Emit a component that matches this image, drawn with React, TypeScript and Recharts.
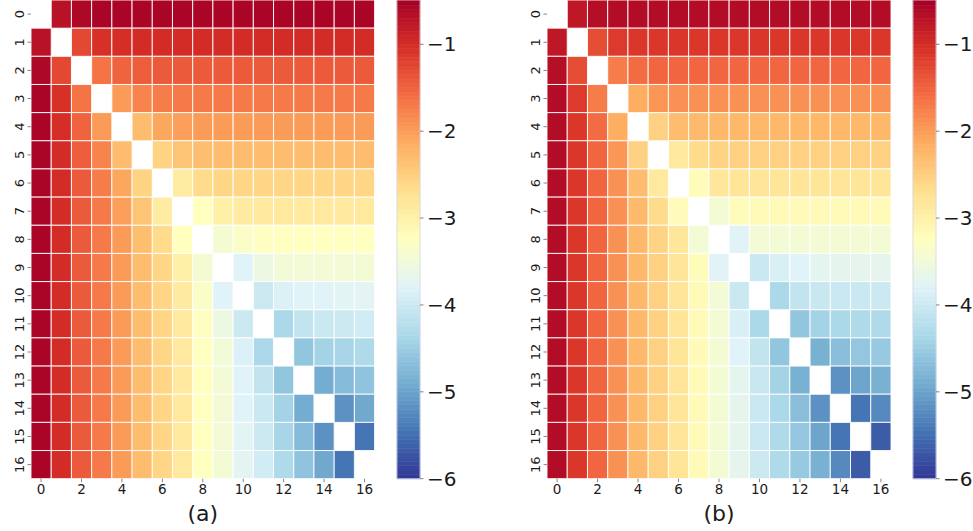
import React from "react";
import { ComposedChart, XAxis, YAxis, ReferenceArea, Label } from "recharts";

const rowLabels = [0, 1, 2, 3, 4, 5, 6, 7, 8, 9, 10, 11, 12, 13, 14, 15, 16];
const xTickLabels = [0, 2, 4, 6, 8, 10, 12, 14, 16];
const colorbarTicks = [-1, -2, -3, -4, -5, -6];
const colorMin = -6;
const colorMax = -0.49;
const panelLabels = ["(a)", "(b)"];

// RdYlBu_r colormap anchors
const cmapStops = [
  "#313695", "#4575b4", "#74add1", "#abd9e9", "#e0f3f8", "#ffffbf",
  "#fee090", "#fdae61", "#f46d43", "#d73027", "#a50026",
];

type Row = (number | null)[];

const valuesA: Row[] = [
  [null, -0.70, -0.58, -0.55, -0.55, -0.55, -0.55, -0.55, -0.55, -0.55, -0.55, -0.55, -0.55, -0.55, -0.55, -0.55, -0.55],
  [-0.70, null, -1.26, -1.05, -1.02, -1.00, -1.00, -1.00, -1.00, -1.00, -1.00, -1.00, -1.00, -1.00, -1.00, -1.00, -1.00],
  [-0.58, -1.26, null, -1.65, -1.50, -1.45, -1.43, -1.43, -1.43, -1.43, -1.43, -1.43, -1.43, -1.43, -1.43, -1.43, -1.43],
  [-0.55, -1.05, -1.65, null, -1.98, -1.78, -1.72, -1.70, -1.70, -1.70, -1.70, -1.70, -1.70, -1.70, -1.70, -1.70, -1.70],
  [-0.55, -1.02, -1.50, -1.98, null, -2.30, -2.08, -2.02, -1.98, -1.98, -1.98, -1.98, -1.98, -1.98, -1.98, -1.98, -1.98],
  [-0.55, -1.00, -1.45, -1.78, -2.30, null, -2.55, -2.38, -2.32, -2.30, -2.30, -2.30, -2.30, -2.30, -2.30, -2.30, -2.30],
  [-0.55, -1.00, -1.43, -1.72, -2.08, -2.55, null, -2.90, -2.65, -2.58, -2.58, -2.58, -2.58, -2.58, -2.58, -2.58, -2.58],
  [-0.55, -1.00, -1.43, -1.70, -2.02, -2.38, -2.90, null, -3.25, -2.97, -2.88, -2.86, -2.86, -2.86, -2.86, -2.86, -2.86],
  [-0.55, -1.00, -1.43, -1.70, -1.98, -2.32, -2.65, -3.25, null, -3.42, -3.33, -3.27, -3.25, -3.25, -3.25, -3.25, -3.25],
  [-0.55, -1.00, -1.43, -1.70, -1.98, -2.30, -2.58, -2.97, -3.42, null, -3.80, -3.58, -3.48, -3.47, -3.46, -3.46, -3.45],
  [-0.55, -1.00, -1.43, -1.70, -1.98, -2.30, -2.58, -2.88, -3.33, -3.80, null, -4.00, -3.85, -3.80, -3.80, -3.76, -3.75],
  [-0.55, -1.00, -1.43, -1.70, -1.98, -2.30, -2.58, -2.86, -3.27, -3.58, -4.00, null, -4.35, -4.12, -4.02, -4.00, -3.95],
  [-0.55, -1.00, -1.43, -1.70, -1.98, -2.30, -2.58, -2.86, -3.25, -3.48, -3.85, -4.35, null, -4.60, -4.42, -4.38, -4.32],
  [-0.55, -1.00, -1.43, -1.70, -1.98, -2.30, -2.58, -2.86, -3.25, -3.47, -3.80, -4.12, -4.60, null, -4.90, -4.72, -4.62],
  [-0.55, -1.00, -1.43, -1.70, -1.98, -2.30, -2.58, -2.86, -3.25, -3.46, -3.80, -4.02, -4.42, -4.90, null, -5.17, -4.95],
  [-0.55, -1.00, -1.43, -1.70, -1.98, -2.30, -2.58, -2.86, -3.25, -3.46, -3.76, -4.00, -4.38, -4.72, -5.17, null, -5.45],
  [-0.55, -1.00, -1.43, -1.70, -1.98, -2.30, -2.58, -2.86, -3.25, -3.45, -3.75, -3.95, -4.32, -4.62, -4.95, -5.45, null],
];

const valuesB: Row[] = [
  [null, -0.77, -0.66, -0.63, -0.63, -0.63, -0.63, -0.63, -0.63, -0.63, -0.63, -0.63, -0.63, -0.63, -0.63, -0.63, -0.63],
  [-0.77, null, -1.30, -1.13, -1.10, -1.10, -1.10, -1.10, -1.10, -1.10, -1.10, -1.10, -1.10, -1.10, -1.10, -1.10, -1.10],
  [-0.66, -1.30, null, -1.72, -1.57, -1.53, -1.53, -1.53, -1.53, -1.53, -1.53, -1.53, -1.53, -1.53, -1.53, -1.53, -1.53],
  [-0.63, -1.13, -1.72, null, -2.14, -1.95, -1.90, -1.90, -1.90, -1.90, -1.90, -1.90, -1.90, -1.90, -1.90, -1.90, -1.90],
  [-0.63, -1.10, -1.57, -2.14, null, -2.53, -2.30, -2.27, -2.25, -2.25, -2.25, -2.25, -2.25, -2.25, -2.25, -2.25, -2.25],
  [-0.63, -1.10, -1.53, -1.95, -2.53, null, -2.86, -2.65, -2.55, -2.53, -2.53, -2.53, -2.53, -2.53, -2.53, -2.53, -2.53],
  [-0.63, -1.10, -1.53, -1.90, -2.30, -2.86, null, -3.20, -2.82, -2.78, -2.78, -2.78, -2.78, -2.78, -2.78, -2.78, -2.78],
  [-0.63, -1.10, -1.53, -1.90, -2.27, -2.65, -3.20, null, -3.45, -3.17, -3.15, -3.15, -3.15, -3.15, -3.15, -3.15, -3.15],
  [-0.63, -1.10, -1.53, -1.90, -2.25, -2.55, -2.82, -3.45, null, -3.78, -3.47, -3.45, -3.45, -3.45, -3.45, -3.45, -3.45],
  [-0.63, -1.10, -1.53, -1.90, -2.25, -2.53, -2.78, -3.17, -3.78, null, -4.02, -3.88, -3.80, -3.72, -3.70, -3.70, -3.70],
  [-0.63, -1.10, -1.53, -1.90, -2.25, -2.53, -2.78, -3.15, -3.47, -4.02, null, -4.35, -4.12, -4.05, -4.02, -4.02, -4.00],
  [-0.63, -1.10, -1.53, -1.90, -2.25, -2.53, -2.78, -3.15, -3.45, -3.88, -4.35, null, -4.60, -4.42, -4.35, -4.32, -4.32],
  [-0.63, -1.10, -1.53, -1.90, -2.25, -2.53, -2.78, -3.15, -3.45, -3.80, -4.12, -4.60, null, -4.85, -4.68, -4.58, -4.55],
  [-0.63, -1.10, -1.53, -1.90, -2.25, -2.53, -2.78, -3.15, -3.45, -3.72, -4.05, -4.42, -4.85, null, -5.17, -4.98, -4.85],
  [-0.63, -1.10, -1.53, -1.90, -2.25, -2.53, -2.78, -3.15, -3.45, -3.70, -4.02, -4.35, -4.68, -5.17, null, -5.45, -5.25],
  [-0.63, -1.10, -1.53, -1.90, -2.25, -2.53, -2.78, -3.15, -3.45, -3.70, -4.02, -4.32, -4.58, -4.98, -5.45, null, -5.67],
  [-0.63, -1.10, -1.53, -1.90, -2.25, -2.53, -2.78, -3.15, -3.45, -3.70, -4.00, -4.32, -4.55, -4.85, -5.25, -5.67, null],
];

const FONT = "DejaVu Sans, Liberation Sans, sans-serif";
const TEXT = "#1a1a1a";
const TICK = "#666666";
const PLOT_BOTTOM = 52.3;

function hexToRgb(h: string) {
  return [parseInt(h.slice(1, 3), 16), parseInt(h.slice(3, 5), 16), parseInt(h.slice(5, 7), 16)];
}

function colorFor(v: number) {
  let t = (v - colorMin) / (colorMax - colorMin);
  t = Math.max(0, Math.min(1, t));
  const pos = t * (cmapStops.length - 1);
  const i = Math.min(Math.floor(pos), cmapStops.length - 2);
  const f = pos - i;
  const a = hexToRgb(cmapStops[i]);
  const b = hexToRgb(cmapStops[i + 1]);
  const c = a.map((x, k) => Math.round(x + (b[k] - x) * f));
  return `rgb(${c[0]},${c[1]},${c[2]})`;
}

const RotatedTick = (props: any) => {
  const { x, y, payload } = props;
  return (
    <text
      x={x}
      y={y}
      transform={`rotate(-90, ${x}, ${y})`}
      textAnchor="middle"
      fontSize={13}
      fontFamily={FONT}
      fill={TEXT}
    >
      {payload.value}
    </text>
  );
};

function Heatmap({ values, label, left, rightMargin }: { values: Row[]; label: string; left: number; rightMargin: number }) {
  const cells: { r: number; c: number; v: number }[] = [];
  values.forEach((row, r) =>
    row.forEach((v, c) => {
      if (v !== null) cells.push({ r, c, v });
    })
  );
  return (
    <div style={{ position: "absolute", left, top: 0 }}>
      <ComposedChart width={380} height={531} margin={{ top: 0, right: rightMargin, bottom: 0, left: 0 }} data={[]}>
        <XAxis
          type="number"
          dataKey="x"
          domain={[-0.5, 16.5]}
          ticks={xTickLabels}
          interval={0}
          allowDataOverflow
          axisLine={false}
          tickLine={{ stroke: TICK, strokeWidth: 0.8 }}
          tickSize={3.5}
          tickMargin={2}
          height={PLOT_BOTTOM}
          tick={{ fontSize: 13.5, fontFamily: FONT, fill: TEXT }}
        >
          <Label value={label} position="insideBottom" offset={10} style={{ fontSize: 22, fontFamily: FONT, fill: TEXT }} />
        </XAxis>
        <YAxis
          type="number"
          dataKey="y"
          domain={[-0.5, 16.5]}
          reversed
          ticks={rowLabels}
          interval={0}
          allowDataOverflow
          axisLine={false}
          tickLine={{ stroke: TICK, strokeWidth: 0.8 }}
          tickSize={3.5}
          tickMargin={3.5}
          width={31}
          tick={<RotatedTick />}
        />
        {cells.map((cell) => (
          <ReferenceArea
            key={`${cell.r}-${cell.c}`}
            x1={cell.c - 0.5}
            x2={cell.c + 0.5}
            y1={cell.r - 0.5}
            y2={cell.r + 0.5}
            fill={colorFor(cell.v)}
            fillOpacity={1}
            stroke="#ffffff"
            strokeWidth={0.9}
            ifOverflow="visible"
          />
        ))}
      </ComposedChart>
    </div>
  );
}

function Colorbar({ left }: { left: number }) {
  const step = 0.05;
  const slices: number[] = [];
  for (let v = colorMin; v < colorMax - 1e-9; v += step) slices.push(v);
  return (
    <div style={{ position: "absolute", left, top: 0 }}>
      <ComposedChart width={80} height={531} margin={{ top: 0, right: 0, bottom: 0, left: 17 }} data={[]}>
        <XAxis
          type="number"
          dataKey="x"
          domain={[-0.5, 0.5]}
          allowDataOverflow
          axisLine={false}
          tickLine={false}
          tick={false}
          height={PLOT_BOTTOM}
        />
        <YAxis
          type="number"
          dataKey="y"
          orientation="right"
          domain={[colorMin, colorMax]}
          ticks={colorbarTicks}
          interval={0}
          allowDataOverflow
          axisLine={false}
          tickLine={{ stroke: TICK, strokeWidth: 0.8 }}
          tickSize={3.5}
          tickMargin={3.5}
          width={40}
          tickFormatter={(v: number) => `\u2212${Math.abs(v)}`}
          tick={{ fontSize: 20, fontFamily: FONT, fill: TEXT }}
        />
        {slices.map((v, i) => {
          const top = Math.min(v + step, colorMax);
          const col = colorFor(v + step / 2);
          return (
            <ReferenceArea
              key={i}
              x1={-0.5}
              x2={0.5}
              y1={v}
              y2={top}
              fill={col}
              fillOpacity={1}
              stroke={col}
              strokeWidth={0.6}
              ifOverflow="visible"
            />
          );
        })}
        <ReferenceArea
          x1={-0.5}
          x2={0.5}
          y1={colorMin}
          y2={colorMax}
          fill="none"
          fillOpacity={0}
          stroke="#d6d6e6"
          strokeWidth={0.8}
          ifOverflow="visible"
        />
      </ComposedChart>
    </div>
  );
}

export default function App() {
  return (
    <div style={{ position: "absolute", left: 0, top: 0, width: 973, height: 531, background: "#fff", overflow: "hidden" }}>
      <Heatmap values={valuesA} label={panelLabels[0]} left={0} rightMargin={5.4} />
      <Colorbar left={380} />
      <Heatmap values={valuesB} label={panelLabels[1]} left={516.3} rightMargin={5} />
      <Colorbar left={896} />
    </div>
  );
}
